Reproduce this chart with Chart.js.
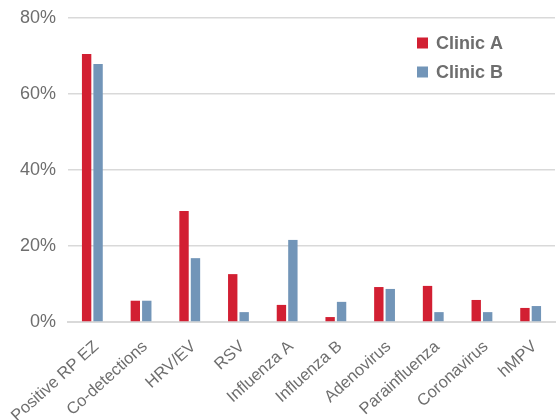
<!DOCTYPE html>
<html>
<head>
<meta charset="utf-8">
<script src="https://cdn.jsdelivr.net/npm/chart.js@4"></script>
<style>
html,body{margin:0;padding:0;background:#fff;}
#wrap{width:559px;height:420px;position:relative;}
</style>
</head>
<body>
<div id="wrap"><canvas id="c"></canvas></div>
<script>
const categories = ["Positive RP EZ","Co-detections","HRV/EV","RSV","Influenza A","Influenza B","Adenovirus","Parainfluenza","Coronavirus","hMPV"];
const clinicA = [70.5, 5.6, 29.2, 12.6, 4.5, 1.3, 9.2, 9.5, 5.8, 3.7];
const clinicB = [67.9, 5.6, 16.8, 2.6, 21.6, 5.3, 8.7, 2.6, 2.6, 4.2];
const seriesNames = ["Clinic A","Clinic B"];
const yTicks = [0, 20, 40, 60, 80];

const FONT = "'Liberation Sans', Arial, sans-serif";
const GRAY = "#6e6e6e";

const legendPlugin = {
  id: 'customLegend',
  afterDraw(chart) {
    const ctx = chart.ctx;
    const ca = chart.chartArea;
    const x0 = ca.right - 138;
    const y0 = ca.top + 25;
    ctx.save();
    ctx.font = "bold 18px " + FONT;
    ctx.textBaseline = 'middle';
    chart.data.datasets.forEach((ds, i) => {
      const y = y0 + i * 29;
      ctx.fillStyle = ds.backgroundColor;
      ctx.fillRect(x0, y - 5.5, 11, 11);
      ctx.fillStyle = GRAY;
      ctx.fillText(ds.label, x0 + 19, y + 1);
    });
    ctx.restore();
  }
};

new Chart(document.getElementById('c'), {
  type: 'bar',
  data: {
    labels: categories,
    datasets: [
      { label: seriesNames[0], data: clinicA, backgroundColor: '#d21f32', barPercentage: 0.82, categoryPercentage: 0.47 },
      { label: seriesNames[1], data: clinicB, backgroundColor: '#7295b8', barPercentage: 0.82, categoryPercentage: 0.47 }
    ]
  },
  options: {
    responsive: true,
    maintainAspectRatio: false,
    animation: false,
    layout: { padding: { top: 18, right: 4, left: 0, bottom: 0 } },
    plugins: { legend: { display: false }, tooltip: { enabled: false } },
    scales: {
      x: {
        grid: { display: false, drawTicks: false },
        border: { display: true, color: '#d9d9d9', width: 2 },
        ticks: { color: GRAY, font: { family: FONT, size: 16.5 }, minRotation: 42, maxRotation: 42, padding: 15, labelOffset: 4, autoSkip: false },
        afterFit(scale) { scale.height = 98; scale.paddingLeft = 0; scale.paddingRight = 0; }
      },
      y: {
        min: 0, max: 80,
        afterBuildTicks(scale) { scale.ticks = yTicks.map(v => ({ value: v })); },
        grid: { color: '#d9d9d9', lineWidth: 1.5, drawTicks: false },
        border: { display: false },
        ticks: { color: GRAY, font: { family: FONT, size: 18 }, padding: 12, callback: v => v + '%' },
        afterFit(scale) { scale.width = 68; scale.paddingTop = 0; scale.paddingBottom = 0; }
      }
    }
  },
  plugins: [legendPlugin]
});
</script>
</body>
</html>
